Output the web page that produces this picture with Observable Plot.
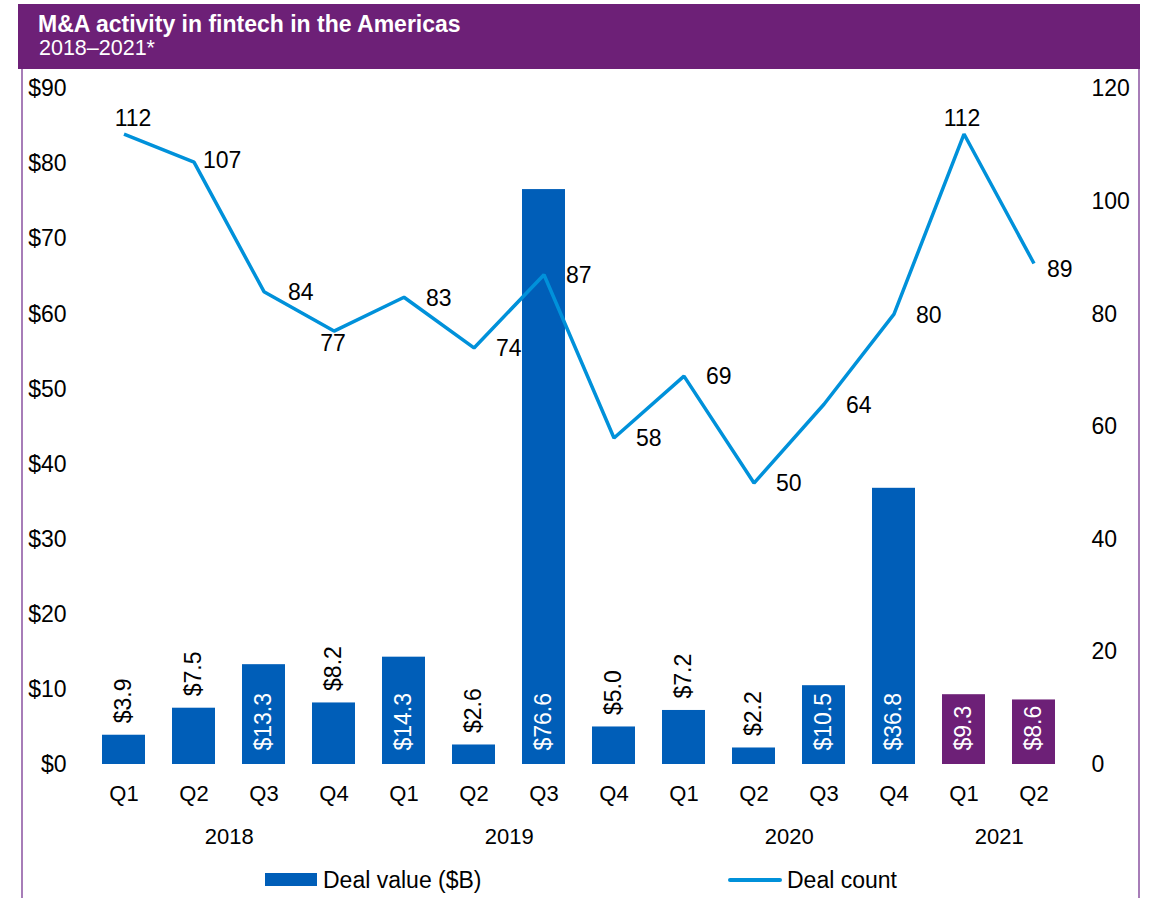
<!DOCTYPE html>
<html>
<head>
<meta charset="utf-8">
<script src="https://cdn.jsdelivr.net/npm/d3@7"></script>
<script src="https://cdn.jsdelivr.net/npm/@observablehq/plot@0.6"></script>
<style>
  html, body { margin: 0; padding: 0; background: #fff; }
  #page { position: relative; width: 1155px; height: 898px; overflow: hidden; font-family: "Liberation Sans", Arial, sans-serif; color: #000; }
  .abs { position: absolute; }
  #header { left: 18px; top: 4px; width: 1122px; height: 65px; background: #6D2077; }
  #title { left: 38px; top: 12.5px; font-size: 23px; font-weight: bold; color: #fff; line-height: 1; white-space: nowrap; }
  #subtitle { left: 39px; top: 38px; font-size: 21.5px; color: #fff; line-height: 1; white-space: nowrap; }
  .border { top: 69px; width: 2px; height: 829px; background: #A77DB8; }
  #chart { left: 0; top: 70px; }
  .legtext { font-size: 23px; line-height: 1; white-space: nowrap; top: 868.5px; }
</style>
</head>
<body>
<div id="page">
  <div id="header" class="abs"></div>
  <div id="title" class="abs">M&amp;A activity in fintech in the Americas</div>
  <div id="subtitle" class="abs">2018–2021*</div>
  <div class="abs border" style="left:21px"></div>
  <div class="abs border" style="left:1138px"></div>
  <div id="chart" class="abs"></div>
  <div class="abs" style="left:265px; top:873px; width:52px; height:13px; background:#005EB8"></div>
  <div class="abs legtext" style="left:323px">Deal value ($B)</div>
  <div class="abs" style="left:728px; top:878px; width:54px; height:4px; background:#0091DA; border-radius:2px"></div>
  <div class="abs legtext" style="left:787px">Deal count</div>
</div>
<script>
// ---- data ----
const years = ["2018","2018","2018","2018","2019","2019","2019","2019","2020","2020","2020","2020","2021","2021"];
const quarters = ["Q1","Q2","Q3","Q4","Q1","Q2","Q3","Q4","Q1","Q2","Q3","Q4","Q1","Q2"];
const dealValue = [3.9, 7.5, 13.3, 8.2, 14.3, 2.6, 76.6, 5.0, 7.2, 2.2, 10.5, 36.8, 9.3, 8.6];
const dealCount = [112, 107, 84, 77, 83, 74, 87, 58, 69, 50, 64, 80, 112, 89];
const leftTicks = [0, 10, 20, 30, 40, 50, 60, 70, 80, 90];
const rightTicks = [0, 20, 40, 60, 80, 100, 120];
const yearTickKeys = ["2018 Q2", "2019 Q2", "2020 Q2", "2021 Q1"];

// ---- derived ----
const BLUE = "#005EB8", PURPLE = "#6D2077", LINE = "#0091DA";
const keys = years.map((y, i) => y + " " + quarters[i]);
const rows = keys.map((k, i) => ({key: k, year: years[i], q: quarters[i], value: dealValue[i], count: dealCount[i], i}));
const ratio = 90 / 120; // right axis (count) mapped onto left axis (value)
const ys = d => d.count * ratio;

// label nudges for the deal-count labels: [dx, dy, anchor]
const nudge = {0: [9, -15, "middle"], 1: [9, -2, "start"], 3: [-1, 13, "middle"], 12: [-2, -15, "middle"], 13: [13, 6, "start"], 2: [24, 1, "start"]};
const countLabels = rows.map(d => {
  const [dx, dy, anchor] = nudge[d.i] || [22, 1, "start"];
  return Plot.text([d], {x: "key", y: ys, text: d => String(d.count), dx, dy, textAnchor: anchor, lineAnchor: "middle", fontSize: 23, fill: "#000"});
});

const inside = d => d.value >= 8.5;

const chart = Plot.plot({
  width: 1155,
  height: 800,
  marginTop: 18.5,
  marginBottom: 106,
  marginLeft: 72,
  marginRight: 70,
  x: {domain: keys, padding: 0.39, axis: null},
  y: {domain: [0, 90], axis: null},
  style: {fontFamily: "'Liberation Sans', Arial, sans-serif", fontSize: "22px", color: "#000", background: "transparent", overflow: "visible"},
  marks: [
    Plot.axisY({ticks: leftTicks, tickFormat: d => "$" + d, tickSize: 0, tickPadding: 6, fontSize: 23, label: null}),
    Plot.axisY({anchor: "right", ticks: rightTicks.map(v => v * ratio), tickFormat: v => String(Math.round(v / ratio)), tickSize: 0, tickPadding: 6, fontSize: 23, label: null}),
    Plot.axisX({ticks: keys, tickFormat: k => k.split(" ")[1], tickSize: 0, tickPadding: 21, fontSize: 22, label: null}),
    Plot.axisX({ticks: yearTickKeys, tickFormat: k => k.split(" ")[0], tickSize: 0, tickPadding: 64, dx: 35.2, fontSize: 22, label: null}),
    Plot.barY(rows.filter(d => d.year !== "2021"), {x: "key", y: "value", fill: BLUE}),
    Plot.barY(rows.filter(d => d.year === "2021"), {x: "key", y: "value", fill: PURPLE}),
    Plot.text(rows.filter(inside), {x: "key", y: 0, text: d => "$" + d.value.toFixed(1), rotate: -90, textAnchor: "start", lineAnchor: "middle", dy: -14, fill: "#fff", fontSize: 23}),
    Plot.text(rows.filter(d => !inside(d)), {x: "key", y: "value", text: d => "$" + d.value.toFixed(1), rotate: -90, textAnchor: "start", lineAnchor: "middle", dy: -12, fill: "#000", fontSize: 23}),
    Plot.line(rows, {x: "key", y: ys, stroke: LINE, strokeWidth: 3.5, strokeLinejoin: "miter", strokeLinecap: "butt"}),
    ...countLabels
  ]
});
document.getElementById("chart").appendChild(chart);
</script>
</body>
</html>
